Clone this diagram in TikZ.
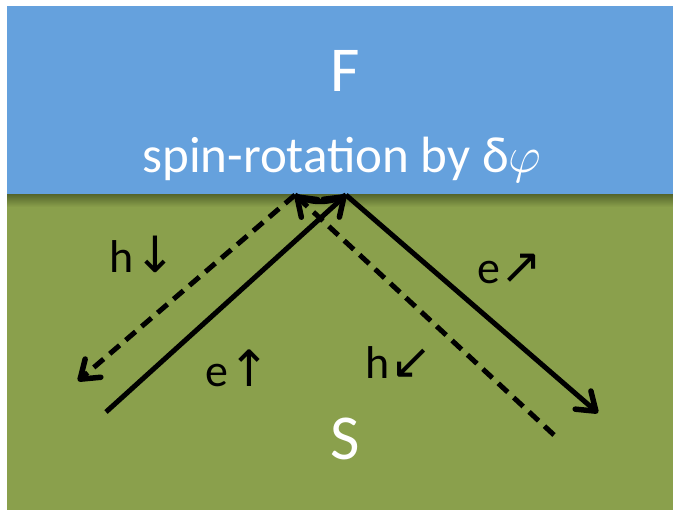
\RequirePackage{fix-cm}
\documentclass[tikz,border=0pt]{standalone}
\usepackage{fontspec}
\setmainfont{Carlito}
\newfontfamily\arrfont{DejaVu Sans}
\usetikzlibrary{arrows.meta}
\definecolor{fblue}{RGB}{101,161,221}
\definecolor{sgreen}{RGB}{138,160,76}
\definecolor{sgreendark}{RGB}{88,105,45}
\tikzset{
  sol/.style={line width=5pt, black},
  dsh/.style={line width=5pt, black, dash pattern=on 13pt off 8pt},
  tip/.style={-{Straight Barb[length=17pt,width=24pt,line width=5.5pt,round]}},
  lab/.style={font=\fontsize{46}{52}\selectfont, text=black, inner sep=0pt, anchor=base},
  big/.style={font=\fontsize{64}{70}\selectfont, text=white, inner sep=0pt, anchor=base},
}
\newcommand{\arw}[1]{{\arrfont\fontsize{50}{56}\selectfont #1}}
\begin{document}
\begin{tikzpicture}[x=1pt,y=-1pt]
\useasboundingbox (0,0) rectangle (673,510);
\fill[white] (0,0) rectangle (673,510);
\fill[fblue] (7,6) rectangle (673,195);
\fill[sgreen] (7,195) rectangle (673,510);
\shade[top color=sgreendark, bottom color=sgreen] (7,195) rectangle (673,207);
\node[big] (F) at (345,92) {F};
\node[font=\fontsize{51}{57}\selectfont, text=white, inner sep=0pt, anchor=base] (rot) at (342,173) {spin-rotation by δ$\varphi$};
\node[big] (S) at (345,460) {S};
\coordinate (pL) at (295,195);
\coordinate (pR) at (346,195);
\coordinate (eIn) at (106,412);
\coordinate (hOut) at (78,381);
\coordinate (eOut) at (598,413);
\coordinate (hIn) at (554,435);
\draw[sol] (pL) .. controls (310,204) and (330,204) .. (pR);
\draw[sol, tip] (eIn) -- (pR);
\draw[sol, tip] (pR) -- (eOut);
\draw[dsh, tip] (hIn) -- (pL);
\draw[dsh, tip] (pL) -- (hOut);
\node[lab] (hdown) at (143,273) {h\arw{↓}};
\node[lab] (eup) at (238,387) {e\arw{↑}};
\node[lab] (ene) at (510,284) {e\arw{↗}};
\node[lab] (hsw) at (399,379) {h\arw{↙}};
\end{tikzpicture}
\end{document}
